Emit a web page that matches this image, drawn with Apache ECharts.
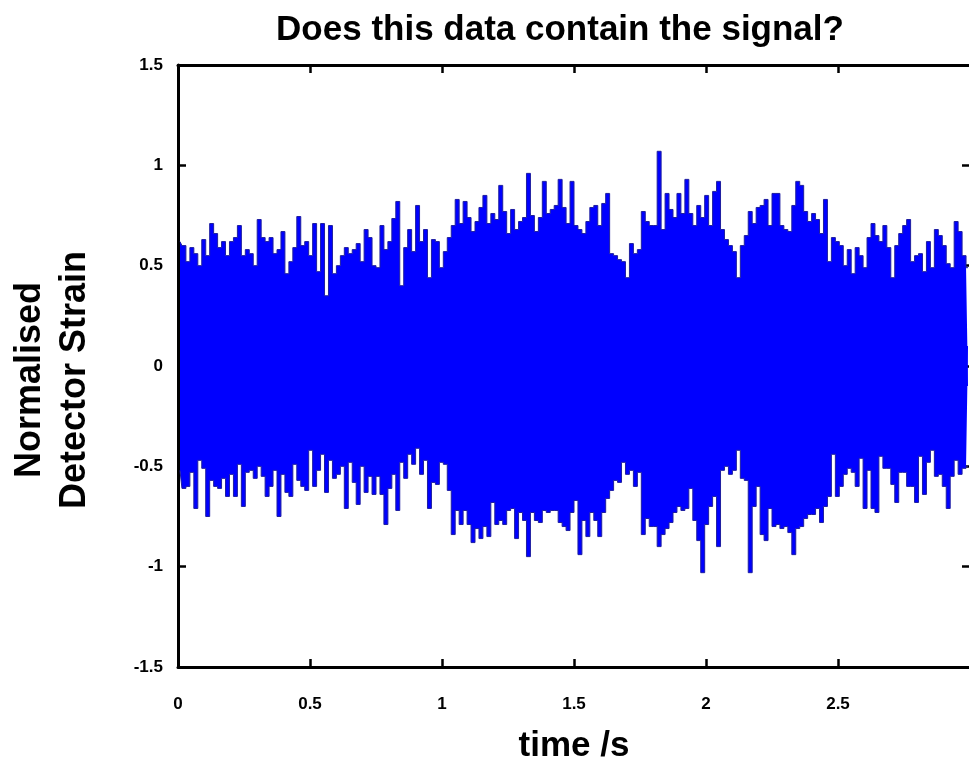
<!DOCTYPE html>
<html>
<head>
<meta charset="utf-8">
<script src="https://cdn.jsdelivr.net/npm/echarts@6/dist/echarts.min.js"></script>
<style>
  html, body { margin: 0; padding: 0; background: #ffffff; }
  #chart { width: 969px; height: 767px; }
</style>
</head>
<body>
<div id="chart"></div>
<script>
// Strain record, 0 to 3 s, sampled as one peak and one trough per 0.015 s bin
const sampleStep = 0.015;

// Upper excursion of the strain in each bin
const upperPeaks = [
  0.62, 0.60, 0.52, 0.59, 0.56, 0.50, 0.63, 0.55, 0.71, 0.66,
  0.59, 0.62, 0.55, 0.62, 0.64, 0.70, 0.55, 0.58, 0.56, 0.50,
  0.73, 0.64, 0.62, 0.64, 0.56, 0.58, 0.67, 0.46, 0.52, 0.59,
  0.745, 0.60, 0.62, 0.55, 0.71, 0.47, 0.71, 0.35, 0.70, 0.46,
  0.50, 0.55, 0.59, 0.56, 0.58, 0.61, 0.52, 0.68, 0.64, 0.50,
  0.49, 0.70, 0.58, 0.62, 0.735, 0.82, 0.40, 0.59, 0.68, 0.57,
  0.80, 0.62, 0.68, 0.44, 0.63, 0.62, 0.49, 0.57, 0.64, 0.70,
  0.83, 0.71, 0.82, 0.74, 0.67, 0.72, 0.79, 0.85, 0.71, 0.76,
  0.73, 0.90, 0.77, 0.66, 0.78, 0.68, 0.72, 0.74, 0.96, 0.75,
  0.67, 0.74, 0.92, 0.76, 0.78, 0.80, 0.93, 0.79, 0.71, 0.92,
  0.70, 0.68, 0.66, 0.72, 0.79, 0.80, 0.70, 0.81, 0.86, 0.56,
  0.55, 0.53, 0.52, 0.44, 0.61, 0.56, 0.58, 0.77, 0.72, 0.70,
  0.70, 1.07, 0.68, 0.86, 0.78, 0.74, 0.86, 0.76, 0.93, 0.76,
  0.70, 0.80, 0.74, 0.85, 0.70, 0.87, 0.92, 0.68, 0.63, 0.60,
  0.57, 0.44, 0.60, 0.65, 0.77, 0.71, 0.79, 0.80, 0.83, 0.70,
  0.86, 0.86, 0.70, 0.68, 0.67, 0.80, 0.92, 0.90, 0.77, 0.72,
  0.76, 0.73, 0.66, 0.83, 0.52, 0.64, 0.62, 0.60, 0.50, 0.58,
  0.46, 0.59, 0.55, 0.49, 0.64, 0.71, 0.65, 0.62, 0.70, 0.59,
  0.44, 0.60, 0.66, 0.70, 0.73, 0.52, 0.55, 0.56, 0.47, 0.62,
  0.49, 0.68, 0.65, 0.60, 0.51, 0.49, 0.72, 0.67, 0.55, 0.49
];

// Lower excursion of the strain in each bin
const lowerTroughs = [
  -0.52, -0.61, -0.60, -0.53, -0.71, -0.47, -0.51, -0.75, -0.57, -0.60,
  -0.61, -0.56, -0.65, -0.54, -0.65, -0.49, -0.70, -0.53, -0.52, -0.56,
  -0.50, -0.55, -0.65, -0.60, -0.52, -0.75, -0.54, -0.63, -0.65, -0.49,
  -0.57, -0.60, -0.62, -0.42, -0.60, -0.52, -0.44, -0.63, -0.47, -0.56,
  -0.54, -0.50, -0.71, -0.48, -0.58, -0.69, -0.50, -0.63, -0.55, -0.64,
  -0.55, -0.64, -0.79, -0.61, -0.54, -0.72, -0.48, -0.56, -0.44, -0.49,
  -0.41, -0.54, -0.47, -0.71, -0.58, -0.59, -0.48, -0.49, -0.62, -0.84,
  -0.72, -0.79, -0.72, -0.79, -0.88, -0.81, -0.86, -0.80, -0.85, -0.68,
  -0.79, -0.77, -0.79, -0.72, -0.71, -0.86, -0.73, -0.77, -0.95, -0.73,
  -0.77, -0.78, -0.72, -0.73, -0.72, -0.72, -0.78, -0.80, -0.82, -0.73,
  -0.67, -0.94, -0.77, -0.85, -0.73, -0.77, -0.85, -0.73, -0.66, -0.62,
  -0.57, -0.58, -0.48, -0.54, -0.52, -0.60, -0.53, -0.84, -0.76, -0.80,
  -0.80, -0.90, -0.84, -0.81, -0.78, -0.73, -0.70, -0.72, -0.71, -0.61,
  -0.77, -0.87, -1.03, -0.79, -0.70, -0.65, -0.90, -0.52, -0.50, -0.54,
  -0.52, -0.42, -0.56, -0.57, -1.03, -0.70, -0.60, -0.84, -0.87, -0.71,
  -0.80, -0.79, -0.81, -0.80, -0.83, -0.94, -0.81, -0.80, -0.76, -0.74,
  -0.74, -0.71, -0.78, -0.70, -0.65, -0.44, -0.65, -0.60, -0.54, -0.51,
  -0.53, -0.60, -0.46, -0.71, -0.52, -0.71, -0.73, -0.45, -0.51, -0.51,
  -0.59, -0.68, -0.53, -0.53, -0.60, -0.60, -0.68, -0.45, -0.64, -0.48,
  -0.42, -0.55, -0.54, -0.60, -0.71, -0.55, -0.47, -0.54, -0.51, -0.50
];

// Axis ranges and tick spacing
const timeRange = [0, 3];
const timeTickStep = 0.5;
const strainRange = [-1.5, 1.5];
const strainTickStep = 0.5;

const titleText = 'Does this data contain the signal?';
const xAxisTitle = 'time /s';
const yAxisTitle = 'Normalised\nDetector Strain';

const binCentre = i => (i + 0.5) * sampleStep;
const upperData = upperPeaks.map((v, i) => [binCentre(i), v]);
const lowerData = lowerTroughs.map((v, i) => [binCentre(i), v]);

const FONT = '"Liberation Sans", Arial, Helvetica, sans-serif';
const traceFill = '#0000ff';
const traceEdge = '#1e1ea0';

const boxLine = { show: true, onZero: false, lineStyle: { color: '#000', width: 3 } };
const innerTick = { show: true, inside: true, length: 8, lineStyle: { color: '#000', width: 2.5 } };
const tickFont = { color: '#000', fontFamily: FONT, fontWeight: 'bold', fontSize: 17 };

const chart = echarts.init(document.getElementById('chart'), null, { renderer: 'canvas' });

chart.setOption({
  animation: false,
  backgroundColor: '#ffffff',
  title: {
    text: titleText,
    left: 555,
    top: 8,
    textAlign: 'center',
    textStyle: { color: '#000', fontFamily: FONT, fontWeight: 'bold', fontSize: 35 }
  },
  grid: { left: 178, top: 65, width: 792, height: 602, containLabel: false, outerBoundsMode: 'none' },
  xAxis: [
    {
      type: 'value', position: 'bottom',
      min: timeRange[0], max: timeRange[1], interval: timeTickStep,
      name: xAxisTitle, nameLocation: 'middle', nameGap: 62,
      nameTextStyle: { color: '#000', fontFamily: FONT, fontWeight: 'bold', fontSize: 35 },
      axisLine: boxLine, axisTick: innerTick,
      axisLabel: Object.assign({ margin: 29, showMaxLabel: false }, tickFont),
      splitLine: { show: false }
    },
    {
      type: 'value', position: 'top',
      min: timeRange[0], max: timeRange[1], interval: timeTickStep,
      axisLine: boxLine, axisTick: innerTick,
      axisLabel: { show: false }, splitLine: { show: false }
    }
  ],
  yAxis: [
    {
      type: 'value', position: 'left',
      min: strainRange[0], max: strainRange[1], interval: strainTickStep,
      axisLine: boxLine, axisTick: innerTick,
      axisLabel: Object.assign({ margin: 15 }, tickFont),
      splitLine: { show: false }
    },
    {
      type: 'value', position: 'right',
      min: strainRange[0], max: strainRange[1], interval: strainTickStep,
      axisLine: boxLine, axisTick: innerTick,
      axisLabel: { show: false }, splitLine: { show: false }
    }
  ],
  graphic: [
    {
      type: 'text',
      x: 53, y: 380,
      rotation: Math.PI / 2,
      style: {
        text: yAxisTitle,
        fill: '#000',
        font: 'bold 36px ' + FONT,
        align: 'center',
        verticalAlign: 'middle',
        lineHeight: 45
      }
    }
  ],
  series: [
    {
      name: 'upper', type: 'line', data: upperData,
      xAxisIndex: 0, yAxisIndex: 0,
      step: 'middle', symbol: 'none', silent: true,
      lineStyle: { color: traceEdge, width: 1 },
      areaStyle: { color: traceFill, opacity: 1, origin: -0.1 }
    },
    {
      name: 'lower', type: 'line', data: lowerData,
      xAxisIndex: 0, yAxisIndex: 0,
      step: 'middle', symbol: 'none', silent: true,
      lineStyle: { color: traceEdge, width: 1 },
      areaStyle: { color: traceFill, opacity: 1, origin: 0.1 }
    }
  ]
});
</script>
</body>
</html>
